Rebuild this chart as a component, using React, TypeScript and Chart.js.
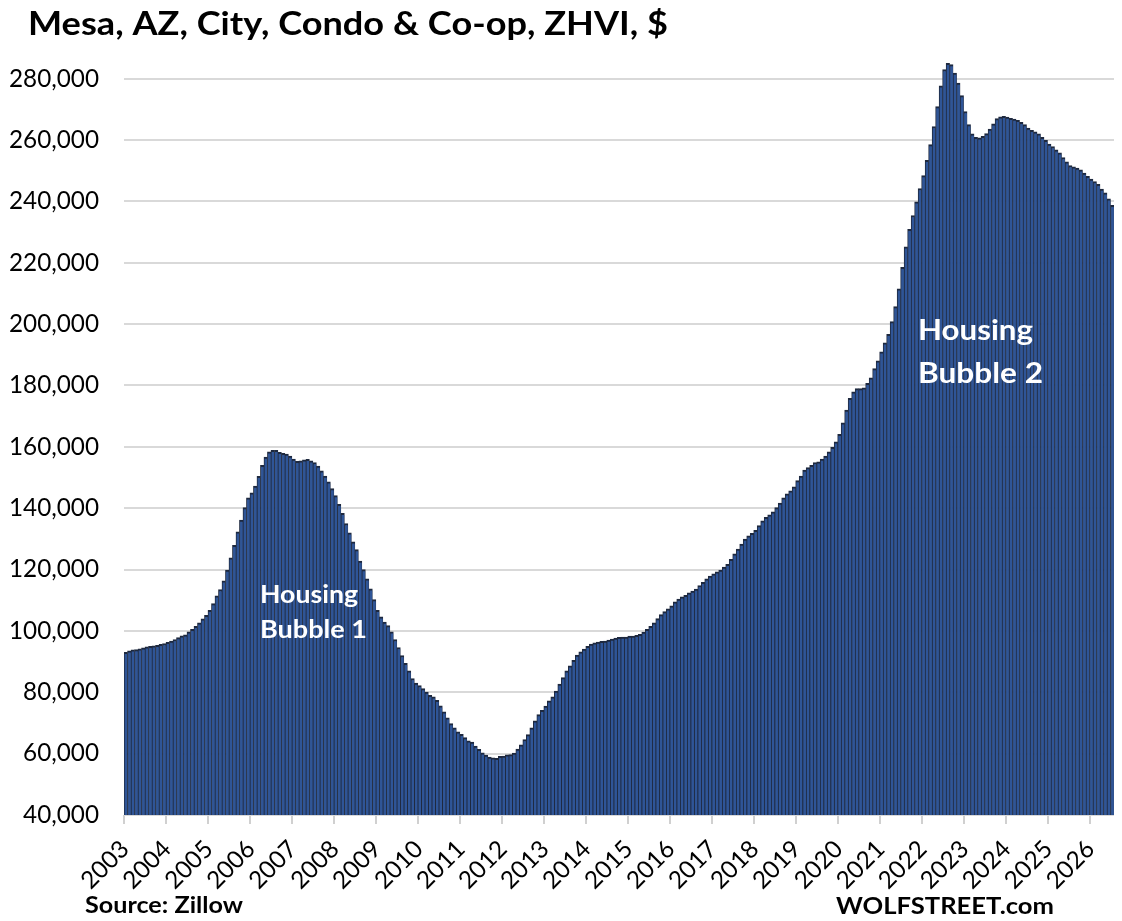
import { useEffect, useRef } from 'react';
import { Chart, registerables } from 'chart.js';

Chart.register(...registerables);

const FONT = 'Lato, "Open Sans", "DejaVu Sans", sans-serif';
const CAP_RATIO = 0.72; // cap height / em for Lato

// Mesa, AZ condo & co-op ZHVI, monthly, Jan 2003 – Jul 2026 (USD)
const v2003 = [93000, 93500, 93800, 93900, 94200, 94500, 94800, 95000, 95100, 95300, 95600, 95900];
const v2004 = [96300, 96700, 97200, 97800, 98400, 98700, 99700, 100500, 101500, 102600, 103900, 105100];
const v2005 = [106700, 108900, 111400, 113500, 116300, 119800, 123800, 127900, 132300, 136100, 140200, 143400];
const v2006 = [145000, 147200, 150400, 154000, 156700, 158400, 158900, 158900, 158200, 157900, 157600, 157000];
const v2007 = [156000, 155300, 155400, 155800, 155900, 155400, 154900, 153700, 152200, 150500, 148600, 146400];
const v2008 = [144100, 141300, 138300, 135000, 132000, 129000, 126500, 122800, 120000, 117000, 113700, 110200];
const v2009 = [106700, 104600, 102900, 101700, 99700, 97200, 94600, 92000, 89400, 87000, 84500, 83000];
const v2010 = [82200, 81200, 80100, 79000, 78500, 77400, 75600, 73600, 71700, 69800, 68400, 67100];
const v2011 = [66300, 65200, 64200, 63800, 62500, 61400, 60300, 59500, 58900, 58600, 58500, 59100];
const v2012 = [59200, 59600, 59700, 60200, 61500, 62900, 64600, 66200, 68400, 70700, 72700, 74100];
const v2013 = [75500, 77200, 78500, 80400, 82700, 84800, 87000, 88600, 90400, 92100, 93200, 94100];
const v2014 = [95000, 95700, 96100, 96400, 96600, 96700, 97000, 97300, 97700, 97900, 98000, 98000];
const v2015 = [98300, 98300, 98600, 98900, 99600, 100500, 101500, 102600, 104000, 105300, 106300, 107200];
const v2016 = [108200, 109500, 110400, 111100, 111600, 112400, 113000, 113600, 114800, 115800, 117000, 117900];
const v2017 = [118600, 119300, 119800, 120800, 121700, 123300, 125100, 126700, 128300, 129900, 131000, 131800];
const v2018 = [132800, 134300, 135900, 137000, 137800, 138800, 140200, 141700, 143400, 144700, 145700, 147000];
const v2019 = [149000, 150500, 152400, 153200, 154000, 154900, 155100, 156000, 157000, 158400, 159800, 161600];
const v2020 = [164100, 167800, 172000, 175800, 177900, 179000, 179000, 179200, 180700, 182500, 185500, 188000];
const v2021 = [191000, 193900, 196700, 200800, 205700, 211500, 218500, 225200, 230900, 235400, 239900, 244200];
const v2022 = [248400, 253400, 258500, 264400, 270900, 277700, 283000, 285000, 284600, 281800, 278600, 274500];
const v2023 = [269300, 265000, 262000, 260900, 260700, 261200, 262100, 263600, 265300, 267000, 267600, 267700];
const v2024 = [267500, 267100, 266800, 266400, 265800, 265000, 263900, 263200, 262700, 262000, 260900, 259900];
const v2025 = [258700, 257900, 256800, 255800, 254300, 252900, 251700, 251300, 250900, 250300, 249200, 248200];
const v2026 = [247300, 246500, 245600, 244000, 242800, 240800, 238700];

const yearlySeries = [
  v2003, v2004, v2005, v2006, v2007, v2008, v2009, v2010, v2011, v2012, v2013, v2014,
  v2015, v2016, v2017, v2018, v2019, v2020, v2021, v2022, v2023, v2024, v2025, v2026,
];
const firstYear = 2003;

const Y_MIN = 40000;
const Y_MAX = 290000;
const Y_TICKS = [40000, 60000, 80000, 100000, 120000, 140000, 160000, 180000, 200000, 220000, 240000, 260000, 280000];

const TITLE = 'Mesa, AZ, City, Condo & Co-op, ZHVI, $';
const SOURCE = 'Source: Zillow';
const BRAND = 'WOLFSTREET.com';

// categories: "YYYY-MM"
const categories: string[] = [];
const values: number[] = [];
yearlySeries.forEach((arr, yi) => {
  arr.forEach((v, mi) => {
    categories.push(`${firstYear + yi}-${String(mi + 1).padStart(2, '0')}`);
    values.push(v);
  });
});

type TextItem = { text: string; x: number; y: number; width: number; cap: number; weight: string; color: string };

const TEXTS: TextItem[] = [
  { text: TITLE, x: 28, y: 35, width: 640, cap: 23, weight: 'bold', color: '#000000' },
  { text: SOURCE, x: 85, y: 913, width: 158, cap: 16, weight: 'bold', color: '#000000' },
  { text: BRAND, x: 836, y: 914, width: 218, cap: 17, weight: 'bold', color: '#000000' },
  { text: 'Housing', x: 260, y: 603, width: 98, cap: 18, weight: 'bold', color: '#ffffff' },
  { text: 'Bubble 1', x: 260, y: 638, width: 107, cap: 18, weight: 'bold', color: '#ffffff' },
  { text: 'Housing', x: 918, y: 340, width: 115, cap: 21, weight: 'bold', color: '#ffffff' },
  { text: 'Bubble 2', x: 918, y: 383, width: 125, cap: 21, weight: 'bold', color: '#ffffff' },
];

function fitSize(ctx: CanvasRenderingContext2D, text: string, weight: string, width: number) {
  ctx.font = `${weight} 100px ${FONT}`;
  const w = ctx.measureText(text).width;
  return (100 * width) / w;
}

const textPlugin = {
  id: 'wolfTexts',
  afterDraw(chart: any, _args: any, opts: any) {
    const ctx: CanvasRenderingContext2D = chart.ctx;
    ctx.save();
    ctx.textAlign = 'left';
    ctx.textBaseline = 'alphabetic';
    for (const t of TEXTS) {
      const size = t.cap / CAP_RATIO;
      ctx.font = `${t.weight} ${size}px ${FONT}`;
      const w = ctx.measureText(t.text).width;
      const sx = t.width / w;
      ctx.fillStyle = t.color;
      ctx.save();
      ctx.translate(t.x, t.y);
      ctx.scale(sx, 1);
      ctx.fillText(t.text, 0, 0);
      ctx.restore();
    }
    // rotated year labels on the category axis
    const xs = chart.scales.x;
    const step = xs.getPixelForValue(1) - xs.getPixelForValue(0);
    const size = opts.tickSize || 24;
    ctx.font = `normal ${size}px ${FONT}`;
    ctx.fillStyle = '#000000';
    ctx.textAlign = 'right';
    ctx.textBaseline = 'middle';
    const labelY = chart.chartArea.bottom + 30;
    for (let i = 0; i < categories.length; i += 12) {
      const edge = xs.getPixelForValue(i) - step / 2;
      ctx.save();
      ctx.translate(edge + 1, labelY);
      ctx.rotate(-Math.PI / 4);
      ctx.fillText(categories[i].slice(0, 4), 0, 0);
      ctx.restore();
    }
    ctx.restore();
  },
};

export default function App() {
  const ref = useRef<HTMLCanvasElement>(null);

  useEffect(() => {
    const canvas = ref.current;
    if (!canvas) return;
    const mctx = canvas.getContext('2d') as CanvasRenderingContext2D;
    const tickSize = fitSize(mctx, '280,000', 'normal', 90);

    const chart = new Chart(canvas, {
      type: 'bar',
      data: {
        labels: categories,
        datasets: [
          {
            data: values,
            backgroundColor: '#2F5597',
            borderColor: '#1E293F',
            borderWidth: { top: 2, left: 1, right: 0.5, bottom: 0 },
            borderSkipped: 'start',
            barPercentage: 1,
            categoryPercentage: 1,
          },
        ],
      },
      options: {
        animation: false,
        responsive: true,
        maintainAspectRatio: false,
        layout: { padding: { top: 48, right: 8, left: 0, bottom: 0 } },
        plugins: {
          legend: { display: false },
          tooltip: { enabled: false },
          title: { display: false },
          wolfTexts: { tickSize },
        } as any,
        scales: {
          x: {
            type: 'category',
            offset: true,
            border: { display: false },
            grid: {
              offset: true,
              drawOnChartArea: false,
              drawTicks: true,
              tickLength: 9,
              lineWidth: 2,
              color: (c: any) => (c.index % 12 === 0 && c.index < categories.length ? '#d0d0d0' : 'rgba(0,0,0,0)'),
            },
            ticks: { display: false, autoSkip: false },
            afterFit: (s: any) => {
              s.height = 106;
              s.paddingLeft = 0;
              s.paddingRight = 0;
            },
          },
          y: {
            min: Y_MIN,
            max: Y_MAX,
            border: { display: false },
            grid: { color: '#d9d9d9', lineWidth: 2, drawTicks: false },
            ticks: {
              padding: 25,
              color: '#000000',
              font: { family: FONT, size: tickSize },
              callback: (v: any) => Number(v).toLocaleString('en-US'),
            },
            afterBuildTicks: (s: any) => {
              s.ticks = Y_TICKS.map((v) => ({ value: v }));
            },
            afterFit: (s: any) => {
              s.width = 124;
              s.paddingTop = 0;
              s.paddingBottom = 0;
            },
          },
        },
      },
      plugins: [textPlugin],
    });
    return () => chart.destroy();
  }, []);

  return (
    <div style={{ position: 'absolute', left: 0, top: 0, width: 1122, height: 921, background: '#ffffff' }}>
      <canvas ref={ref} style={{ display: 'block' }} />
    </div>
  );
}
